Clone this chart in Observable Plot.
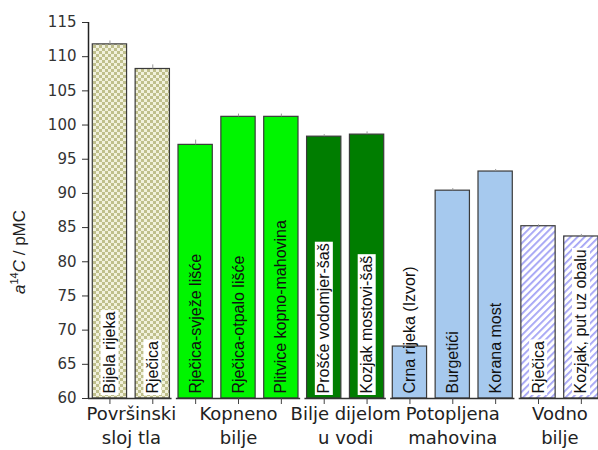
<!DOCTYPE html>
<html><head><meta charset="utf-8">
<script src="https://cdn.jsdelivr.net/npm/d3@7"></script>
<script src="https://cdn.jsdelivr.net/npm/@observablehq/plot@0.6"></script>
<style>
body{margin:0;background:#fff}
#chart svg{font-family:"DejaVu Sans",sans-serif;overflow:visible}
</style>
</head><body><div id="chart"></div>
<script>
const samples = ["Bijela rijeka","Rječica","Rječica-svježe lišće","Rječica-otpalo lišće","Plitvice kopno-mahovina","Prošće vodomjer-šaš","Kozjak mostovi-šaš","Crna rijeka (Izvor)","Burgetići","Korana most","Rječica","Kozjak, put uz obalu"];
const values = [111.8,108.2,97.1,101.2,101.2,98.3,98.6,67.6,90.4,93.2,85.2,83.7];
const errors = [0.5,0.6,0.7,0.4,0.4,0.3,0.4,0.3,0.3,0.3,0.2,0.3];
const groupOf = [0,0,1,1,1,2,2,3,3,3,4,4];
const groupLabels = ["Površinski\nsloj tla","Kopneno\nbilje","Bilje dijelom\nu vodi","Potopljena\nmahovina","Vodno\nbilje"];
const groupFills = ["url(#checker)","#00f500","#007d00","#a6c9ee","url(#hatch)"];
const boxedGroups = [0,2,4];
const yTicks = [60,65,70,75,80,85,90,95,100,105,110,115];

const rows = samples.map((s,i)=>({i, s, v: values[i], e: errors[i], g: groupOf[i], fill: groupFills[groupOf[i]], boxed: boxedGroups.includes(groupOf[i])}));
const groups = groupLabels.map((label,g)=>{
  const idx = rows.filter(d=>d.g===g).map(d=>d.i);
  return {g, label, first: d3.min(idx), last: d3.max(idx), mid: d3.mean(idx)};
});

const plot = Plot.plot({
  width: 598, height: 450,
  marginLeft: 88, marginRight: 0, marginTop: 22, marginBottom: 52,
  x: {type: "linear", domain: [-0.5, 11.4], axis: null},
  y: {domain: [60, 115], axis: null},
  color: {type: "identity"},
  marks: [
    Plot.rectY(rows, {x1: d=>d.i-0.4, x2: d=>d.i+0.4, y1: 60, y2: "v", fill: "fill", stroke: "#3a3a3a", strokeWidth: 1.2}),
    Plot.ruleX(rows, {x: "i", y1: "v", y2: d=>d.v+d.e, stroke: "#999", strokeWidth: 1}),
    Plot.text(rows.filter(d=>d.boxed), {x: "i", y: 60, text: "s", rotate: -90, textAnchor: "start", dy: -5, fontSize: 16, fill: "#111", fontFamily: "Liberation Sans, Arial, sans-serif", ariaDescription: "boxed"}),
    Plot.text(rows.filter(d=>!d.boxed), {x: "i", y: 60, text: "s", rotate: -90, textAnchor: "start", dy: -5, fontSize: 16, fill: "#111", fontFamily: "Liberation Sans, Arial, sans-serif"}),
    Plot.axisY({ticks: yTicks, tickSize: 6, tickPadding: 6, fontSize: 15, color: "#333", label: null}),
    Plot.ruleX([0], {x: -0.5, y1: 60, y2: 115, stroke: "#222", strokeWidth: 1.5}),
    Plot.ruleY(groups, {y: 60, x1: d=>d.first-0.5+(d.g===0?0:0.05), x2: d=>d.last+0.5-0.05, stroke: "#333", strokeWidth: 1.5}),
    Plot.axisX({ticks: rows.map(d=>d.i), tickFormat: ()=>"", tickSize: 6, stroke: "#444"}),
    Plot.text(groups, {x: "mid", y: 60, text: "label", lineAnchor: "top", dy: 5, fontSize: 18, lineHeight: 1.3, fill: "#222"})
  ]
});
document.getElementById("chart").append(plot);

const svg = d3.select(plot);
const defs = svg.insert("defs", ":first-child");
const ck = defs.append("pattern").attr("id","checker").attr("patternUnits","userSpaceOnUse").attr("width",6).attr("height",6);
ck.append("rect").attr("width",6).attr("height",6).attr("fill","#f1f1dc");
ck.append("rect").attr("width",3).attr("height",3).attr("fill","#bfbf8c");
ck.append("rect").attr("x",3).attr("y",3).attr("width",3).attr("height",3).attr("fill","#bfbf8c");
const ht = defs.append("pattern").attr("id","hatch").attr("patternUnits","userSpaceOnUse").attr("width",5).attr("height",5).attr("patternTransform","rotate(45)");
ht.append("rect").attr("width",5).attr("height",5).attr("fill","#fff");
ht.append("rect").attr("width",1.8).attr("height",5).attr("fill","#a3a3f5");

svg.selectAll('g[aria-description="boxed"] text').each(function(){
  const b = this.getBBox();
  d3.select(this.parentNode).insert("rect", () => this)
    .attr("transform", this.getAttribute("transform"))
    .attr("x", b.x-1.5).attr("y", b.y-0.5).attr("width", b.width+3).attr("height", b.height+1)
    .attr("fill", "#fff");
});

const lbl = svg.append("text").attr("transform","translate(25,252) rotate(-90)").attr("text-anchor","middle")
  .attr("font-family","Liberation Sans, Arial, sans-serif").attr("font-size",17).attr("fill","#222");
lbl.append("tspan").attr("font-style","italic").text("a");
lbl.append("tspan").attr("font-size",11).attr("dy",-7).text("14");
lbl.append("tspan").attr("font-style","italic").attr("dy",7).text("C");
lbl.append("tspan").text(" / pMC");
</script>
</body></html>
